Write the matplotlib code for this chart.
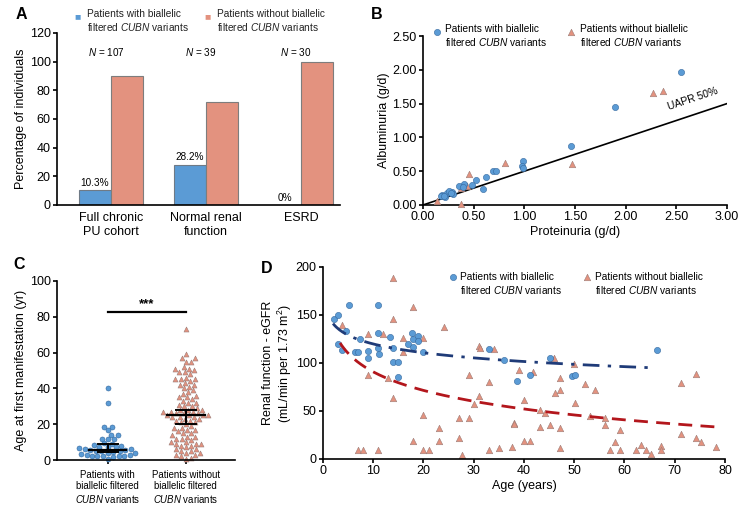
import matplotlib
matplotlib.use("Agg")
import matplotlib.pyplot as plt
import numpy as np

plt.rcParams['font.family'] = ['Liberation Sans', 'DejaVu Sans']
plt.rcParams['mathtext.fontset'] = 'custom'
plt.rcParams['mathtext.rm'] = 'Liberation Sans'
plt.rcParams['mathtext.it'] = 'Liberation Sans:italic'
plt.rcParams['axes.linewidth'] = 1.2
plt.rcParams['xtick.major.width'] = 1.2
plt.rcParams['ytick.major.width'] = 1.2
plt.rcParams['xtick.major.size'] = 3
plt.rcParams['ytick.major.size'] = 3

BLUE = '#5b9bd5'
BLUE_EDGE = '#34689e'
RED = '#e3927f'
RED_EDGE = '#9b7d78'

TICK = 9
LABEL = 9
LEGEND = 7.3

LEG_BLUE = "Patients with biallelic\nfiltered $\\it{CUBN}$ variants"
LEG_RED = "Patients without biallelic\nfiltered $\\it{CUBN}$ variants"

# ---------------- Panel A data -----------------
a_groups = ["Full chronic\nPU cohort", "Normal renal\nfunction", "ESRD"]
a_with = [10.3, 28.2, 0.0]
a_without = [89.7, 71.8, 100.0]
a_n = ["$\\it{N}$ = 107", "$\\it{N}$ = 39", "$\\it{N}$ = 30"]
a_pct = ["10.3%", "28.2%", "0%"]

# ---------------- Panel B data -----------------
b_prot_with = [2.55, 1.89, 1.46, 0.99, 0.98, 0.99, 0.69, 0.72, 0.62, 0.52, 0.59, 0.48,
               0.40, 0.36, 0.29, 0.30, 0.24, 0.22, 0.19, 0.18, 0.26, 0.28, 0.21, 0.39]
b_alb_with = [1.97, 1.45, 0.88, 0.65, 0.57, 0.54, 0.50, 0.50, 0.42, 0.37, 0.24, 0.29,
              0.31, 0.28, 0.19, 0.17, 0.18, 0.12, 0.15, 0.14, 0.20, 0.18, 0.14, 0.27]
b_prot_without = [2.27, 2.37, 1.47, 0.81, 0.45, 0.38, 0.43, 0.14, 0.38]
b_alb_without = [1.66, 1.68, 0.60, 0.62, 0.46, 0.25, 0.28, 0.06, 0.02]
b_uapr = [0.0, 3.0]

# ---------------- Panel C data -----------------
c_with = [40, 31.6, 18.6, 18.6, 16.6, 14, 13.8, 12, 11.5, 11.5, 9.3, 8.9, 8.4, 8, 7.5,
          7, 7, 6.5, 6, 6, 5.8, 5.5, 5, 5, 4.8, 4.5, 4, 4, 3.5, 3, 3, 2.5, 2.2, 2.2,
          2, 2, 1.5, 0.8]
c_without = [73, 59, 57, 57, 55, 55, 52, 51, 51, 50, 49, 49, 48, 46, 45, 45, 45, 44, 43,
             42, 42, 41, 40, 39, 38, 37, 36, 35, 35, 34, 33, 32, 32, 31, 30, 30, 29, 28,
             28, 28, 27, 27, 27, 26, 26, 26, 25, 25, 25, 25, 24, 24, 24, 23, 23, 22, 22,
             21, 21, 20, 19, 18, 18, 17, 17, 16, 15, 15, 14, 13, 13, 12, 12, 11, 10, 10,
             9, 9, 9, 8, 8, 7, 6, 6, 5, 5, 4, 4, 3, 3, 2, 1, 0.5]
c_med_with, c_ci_with = 5.8, (4.2, 8.7)
c_med_without, c_ci_without = 25.0, (20.3, 27.8)
c_labels = ["Patients with\nbiallelic filtered\n$\\it{CUBN}$ variants",
            "Patients without\nbiallelic filtered\n$\\it{CUBN}$ variants"]

# ---------------- Panel D data -----------------
d_age_with = [2.1, 2.9, 5.1, 11.0, 4.6, 2.9, 3.8, 7.4, 6.3, 7.0, 8.9, 8.9, 11.0, 11.0,
              11.1, 13.4, 13.9, 13.9, 14.9, 15.0, 17.8, 17.9, 18.9, 19.0, 17.0, 18.0,
              20.0, 33.1, 36.0, 38.6, 41.1, 45.2, 49.5, 50.1, 66.5]
d_egfr_with = [146, 150, 160, 160, 133.7, 120, 113, 125.3, 111, 111, 112.5, 105, 131,
               116, 109.5, 127, 116, 101, 101, 85.5, 131, 124.5, 127.8, 122.6, 120,
               117, 111.5, 114.2, 103, 81.3, 87.5, 105.2, 86.1, 87.5, 113.5]
d_age_without = [14.0, 18.0, 14.0, 3.8, 24.0, 9.0, 12.0, 16.0, 20.0, 16.0, 9.0, 13.0,
                 14.0, 31.0, 31.3, 34.1, 46.0, 50.0, 29.1, 33.0, 39.0, 41.7, 47.2, 52.1,
                 31.0, 40.0, 30.0, 47.2, 46.2, 50.1, 43.1, 44.1, 53.1, 54.1, 56.1, 56.1,
                 59.1, 20.0, 23.1, 23.1, 27.1, 29.1, 27.1, 38.0, 38.0, 37.6, 43.1, 45.1,
                 47.2, 47.2, 58.1, 63.2, 71.2, 71.2, 74.2, 74.2, 75.3, 78.3, 67.2, 67.2,
                 65.2, 64.2, 62.2, 59.1, 57.1, 40.0, 41.1, 35.0, 33.0, 27.6, 18.0, 20.0,
                 21.0, 11.0, 6.9, 7.9]
d_egfr_without = [189, 158, 146, 140, 137, 130, 130, 125.5, 125.5, 111.5, 87.5, 84, 64,
                  118, 115.5, 114.5, 105.5, 98.5, 87.5, 80.5, 92.7, 90.5, 84.2, 78.6,
                  65.5, 61.5, 57, 71.5, 68.8, 58.5, 50.7, 47.6, 45.1, 72, 42.5, 35.4,
                  30.2, 45.8, 32.3, 18.4, 42.4, 42.4, 21.5, 37.8, 36, 12.2, 33.3, 35.3,
                  32.3, 11, 17.7, 14.9, 26.5, 79.3, 88.3, 21.5, 17.7, 12.5, 13.5, 9.4,
                  5.7, 9.4, 9.4, 9.4, 9.4, 19.2, 19.2, 11, 9.2, 4, 19.2, 9.3, 9.3, 9.3,
                  9.3, 9.3]
# logarithmic trend lines: y = a + b*ln(age)
d_fit_with = (150.2, -13.2, 2.0, 65.0)
d_fit_without = (155.0, -27.9, 3.4, 78.0)


def style_axes(ax):
    for s in ['top', 'right']:
        ax.spines[s].set_visible(False)
    ax.tick_params(direction='out', labelsize=TICK, pad=1.5)


def swarm(ax, xc, values, diam):
    # simple beeswarm in display coordinates
    order = np.argsort(values)
    placed = []
    out = np.zeros((len(values), 2))
    for i in order:
        px, py = ax.transData.transform((xc, values[i]))
        step = 0.5
        k = 0
        while True:
            off = ((k + 1) // 2) * step * (1 if k % 2 == 1 else -1)
            cand = px + off
            ok = all((cand - qx) ** 2 + (py - qy) ** 2 >= diam ** 2 for qx, qy in placed)
            if ok:
                break
            k += 1
        placed.append((cand, py))
        out[i] = ax.transData.inverted().transform((cand, py))
    return out


fig = plt.figure(figsize=(7.48, 5.13), dpi=100)

# ---------------- Panel A -----------------
axA = fig.add_axes([0.0762, 0.6004, 0.378, 0.3353])
xa = np.arange(len(a_groups))
w = 0.335
axA.bar(xa - w / 2, a_with, w, color=BLUE, edgecolor='#6f7a86', linewidth=0.8)
axA.bar(xa + w / 2, a_without, w, color=RED, edgecolor='#7d7d7d', linewidth=0.8)
for i in range(len(a_groups)):
    axA.text(xa[i] - w / 2, a_with[i] + 1.5, a_pct[i], ha='center', va='bottom', fontsize=7.2)
    axA.text(xa[i] - 0.05, 107, a_n[i], ha='center', va='center', fontsize=7.2)
axA.set_xlim(-0.568, 2.41)
axA.set_ylim(0, 120)
axA.set_yticks(np.arange(0, 121, 20))
axA.set_xticks(xa)
axA.set_xticklabels(a_groups, fontsize=9)
axA.tick_params(axis='x', length=0)
style_axes(axA)
axA.tick_params(axis='x', pad=5)
axA.set_ylabel("Percentage of individuals", fontsize=LABEL, labelpad=2)
fig.text(0.103, 0.969, "\u25a0", color=BLUE, fontsize=7.5, ha='center', va='center')
fig.text(0.116, 0.9815, LEG_BLUE, fontsize=LEGEND, ha='left', va='top', color='#222222')
fig.text(0.277, 0.969, "\u25a0", color=RED, fontsize=7.5, ha='center', va='center')
fig.text(0.290, 0.9815, LEG_RED, fontsize=LEGEND, ha='left', va='top', color='#222222')

# ---------------- Panel B -----------------
axB = fig.add_axes([0.5655, 0.6004, 0.4064, 0.3294])
axB.plot(b_uapr, [0.5 * v for v in b_uapr], color='black', lw=1.2, zorder=1)
axB.scatter(b_prot_without, b_alb_without, marker='^', s=22, color=RED,
            edgecolors=RED_EDGE, linewidths=0.4, zorder=3, clip_on=False)
axB.scatter(b_prot_with, b_alb_with, marker='o', s=20, color=BLUE,
            edgecolors=BLUE_EDGE, linewidths=0.4, zorder=3, clip_on=False)
axB.text(2.66, 1.37, "UAPR 50%", rotation=18.5, fontsize=7.5, ha='center', va='bottom')
axB.set_xlim(0, 3)
axB.set_ylim(0, 2.5)
axB.set_xticks(np.arange(0, 3.01, 0.5))
axB.set_yticks(np.arange(0, 2.51, 0.5))
axB.xaxis.set_major_formatter(matplotlib.ticker.FormatStrFormatter('%.2f'))
axB.yaxis.set_major_formatter(matplotlib.ticker.FormatStrFormatter('%.2f'))
style_axes(axB)
axB.set_xlabel("Proteinuria (g/d)", fontsize=LABEL, labelpad=2)
axB.set_ylabel("Albuminuria (g/d)", fontsize=LABEL, labelpad=2)
axB.scatter([0.046], [1.024], transform=axB.transAxes, marker='o', s=20, color=BLUE,
            edgecolors=BLUE_EDGE, linewidths=0.4, clip_on=False)
axB.text(0.072, 1.07, LEG_BLUE, transform=axB.transAxes, fontsize=LEGEND, va='top', ha='left')
axB.scatter([0.487], [1.024], transform=axB.transAxes, marker='^', s=22, color=RED,
            edgecolors=RED_EDGE, linewidths=0.4, clip_on=False)
axB.text(0.516, 1.07, LEG_RED, transform=axB.transAxes, fontsize=LEGEND, va='top', ha='left')

# ---------------- Panel C -----------------
axC = fig.add_axes([0.0762, 0.1033, 0.238, 0.349])
axC.set_xlim(-0.65, 1.63)
axC.set_ylim(0, 100)
style_axes(axC)
pos_with = swarm(axC, 0, c_with, 5.2)
pos_without = swarm(axC, 1, c_without, 5.2)
axC.scatter(pos_with[:, 0], pos_with[:, 1], marker='o', s=13, color=BLUE,
            edgecolors=BLUE_EDGE, linewidths=0.4, zorder=2, clip_on=False)
axC.scatter(pos_without[:, 0], pos_without[:, 1], marker='^', s=13, color=RED,
            edgecolors=RED_EDGE, linewidths=0.4, zorder=2, clip_on=False)
for xc, med, ci in [(0, c_med_with, c_ci_with), (1, c_med_without, c_ci_without)]:
    axC.plot([xc - 0.24, xc + 0.24], [med, med], color='black', lw=1.6, zorder=4)
    axC.plot([xc - 0.13, xc + 0.13], [ci[0], ci[0]], color='black', lw=1.4, zorder=4)
    axC.plot([xc - 0.13, xc + 0.13], [ci[1], ci[1]], color='black', lw=1.4, zorder=4)
    axC.plot([xc, xc], [ci[0], ci[1]], color='black', lw=1.4, zorder=4)
axC.plot([0, 1], [82.7, 82.7], color='black', lw=1.6)
axC.text(0.5, 83.5, "***", ha='center', va='bottom', fontsize=9.5, fontweight='bold')
axC.set_xticks([0, 1])
axC.set_xticklabels(c_labels, fontsize=6.9)
axC.tick_params(axis='x', pad=4)
axC.set_yticks(np.arange(0, 101, 20))
axC.set_ylabel("Age at first manifestation (yr)", fontsize=LABEL, labelpad=2)

# ---------------- Panel D -----------------
axD = fig.add_axes([0.4318, 0.1053, 0.5374, 0.3743])
axD.scatter(d_age_without, d_egfr_without, marker='^', s=22, color=RED,
            edgecolors=RED_EDGE, linewidths=0.4, zorder=2, clip_on=False)
axD.scatter(d_age_with, d_egfr_with, marker='o', s=20, color=BLUE,
            edgecolors=BLUE_EDGE, linewidths=0.4, zorder=3, clip_on=False)
for (a, b, x0, x1), col, dash in [(d_fit_with, '#1f3b78', (6, 3, 1.2, 3)),
                                   (d_fit_without, '#b3161c', (5, 3))]:
    xs = np.linspace(x0, x1, 200)
    axD.plot(xs, a + b * np.log(xs), color=col, lw=2, dashes=dash, zorder=4)
axD.set_xlim(0, 80)
axD.set_ylim(0, 200)
axD.set_xticks(np.arange(0, 81, 10))
axD.set_yticks(np.arange(0, 201, 50))
style_axes(axD)
axD.set_xlabel("Age (years)", fontsize=LABEL, labelpad=2)
axD.set_ylabel("Renal function - eGFR\n(mL/min per 1.73 m$^2$)", fontsize=LABEL, labelpad=1)
axD.scatter([0.323], [0.949], transform=axD.transAxes, marker='o', s=20, color=BLUE,
            edgecolors=BLUE_EDGE, linewidths=0.4, clip_on=False)
axD.text(0.341, 0.974, LEG_BLUE, transform=axD.transAxes, fontsize=LEGEND, va='top', ha='left')
axD.scatter([0.656], [0.949], transform=axD.transAxes, marker='^', s=22, color=RED,
            edgecolors=RED_EDGE, linewidths=0.4, clip_on=False)
axD.text(0.677, 0.974, LEG_RED, transform=axD.transAxes, fontsize=LEGEND, va='top', ha='left')

# panel letters
for lab, x, y in [("A", 0.029, 0.971), ("B", 0.503, 0.971), ("C", 0.025, 0.485), ("D", 0.357, 0.476)]:
    fig.text(x, y, lab, fontsize=11.5, fontweight='bold', ha='center', va='center')

fig.savefig("out.png", dpi=100)
